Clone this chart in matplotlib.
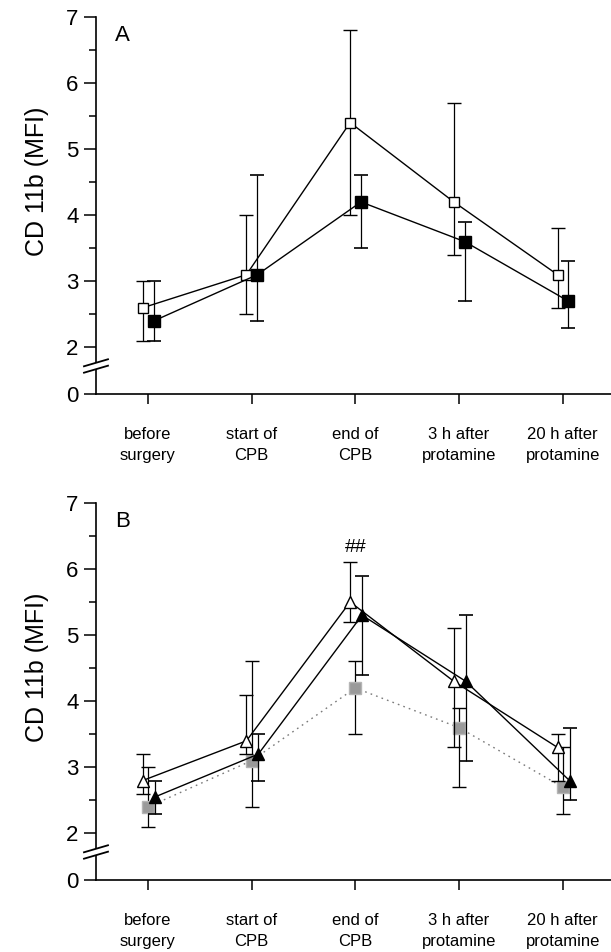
import numpy as np
import matplotlib.pyplot as plt
from matplotlib.patches import Polygon

plt.rcParams['font.family'] = ['Liberation Sans', 'DejaVu Sans']

CATEGORIES = ["before\nsurgery", "start of\nCPB", "end of\nCPB",
              "3 h after\nprotamine", "20 h after\nprotamine"]

# panel A: open vs filled squares (mean, lower, upper)
A_OPEN = [2.6, 3.1, 5.4, 4.2, 3.1]
A_OPEN_LO = [2.1, 2.5, 4.0, 3.4, 2.6]
A_OPEN_HI = [3.0, 4.0, 6.8, 5.7, 3.8]
A_FILLED = [2.4, 3.1, 4.2, 3.6, 2.7]
A_FILLED_LO = [2.1, 2.4, 3.5, 2.7, 2.3]
A_FILLED_HI = [3.0, 4.6, 4.6, 3.9, 3.3]

# panel B: open vs filled triangles, grey squares repeat group from A
B_OPEN = [2.8, 3.4, 5.5, 4.3, 3.3]
B_OPEN_LO = [2.6, 3.2, 5.2, 3.3, 2.8]
B_OPEN_HI = [3.2, 4.1, 6.1, 5.1, 3.5]
B_FILLED = [2.55, 3.2, 5.3, 4.3, 2.8]
B_FILLED_LO = [2.3, 2.8, 4.4, 3.1, 2.5]
B_FILLED_HI = [2.8, 3.5, 5.9, 5.3, 3.6]
B_GREY = [2.4, 3.1, 4.2, 3.6, 2.7]
B_GREY_LO = [2.1, 2.4, 3.5, 2.7, 2.3]
B_GREY_HI = [3.0, 4.6, 4.6, 3.9, 3.3]

Y_TICKS = [2, 3, 4, 5, 6, 7]
Y_MINOR = [2.5, 3.5, 4.5, 5.5, 6.5]
ZERO_POS = 1.296   # where "0" sits below the axis break
SIG_MARK = "##"
SIG_POS = (2, 6.32)

###############################################################################

def errbars(ax, x, y, lo, hi, **kw):
    ''' Draws asymmetric error bars with markers '''
    y = np.asarray(y)
    yerr = [y - np.asarray(lo), np.asarray(hi) - y]
    return ax.errorbar(x, y, yerr=yerr, capsize=5, elinewidth=0.9,
                       capthick=1.2, ecolor='black', **kw)

def setup_axes(ax, letter):
    ''' Broken y axis (0 | 2..7), outward ticks, category labels '''
    ax.set_xlim(-0.5, 4.465)
    ax.set_ylim(ZERO_POS, 7)
    for side in ('top', 'right'):
        ax.spines[side].set_visible(False)
    for side in ('left', 'bottom'):
        ax.spines[side].set_linewidth(1.2)
    ax.set_yticks([ZERO_POS] + Y_TICKS)
    ax.set_yticklabels(['0'] + [str(t) for t in Y_TICKS])
    ax.set_yticks(Y_MINOR, minor=True)
    ax.tick_params(axis='y', which='major', direction='out', length=8.5,
                   width=1.1, labelsize=16, pad=4)
    ax.tick_params(axis='y', which='minor', direction='out', length=5, width=1.1)
    ax.set_xticks(range(len(CATEGORIES)))
    ax.set_xticklabels(CATEGORIES, fontsize=12, linespacing=1.45)
    ax.tick_params(axis='x', direction='out', length=7, width=1.1, pad=17)
    ax.text(-0.1146, 0.563, "CD 11b (MFI)", transform=ax.transAxes,
            rotation=90, ha='center', va='center', fontsize=18)
    ax.text(0.037, 0.935, letter, transform=ax.transAxes, fontsize=16,
            ha='left', va='baseline')

    # break marks on the y axis
    cy = (1.72 - ZERO_POS) / (7 - ZERO_POS)
    hw, hh, gap = 0.0233, 0.0093, 0.0085
    ax.add_patch(Polygon([(-0.004, cy - gap), (0.004, cy - gap),
                          (0.004, cy + gap), (-0.004, cy + gap)],
                         closed=True, transform=ax.transAxes, facecolor='white',
                         edgecolor='none', clip_on=False, zorder=5))
    for off in (-gap, gap):
        ax.plot([-hw, hw], [cy + off - hh, cy + off + hh], color='black',
                lw=1.3, transform=ax.transAxes, clip_on=False, zorder=6)

###############################################################################

x = np.arange(len(CATEGORIES))
fig = plt.figure(figsize=(6.11, 9.52), dpi=100)
axA = fig.add_axes([0.1571, 0.5861, 0.8429, 0.3963])
axB = fig.add_axes([0.1571, 0.0756, 0.8429, 0.3963])

# panel A
errbars(axA, x - 0.05, A_OPEN, A_OPEN_LO, A_OPEN_HI, color='black', lw=1.0,
        marker='s', ms=7.5, mfc='white', mec='black', mew=1.0, zorder=3)
errbars(axA, x + 0.055, A_FILLED, A_FILLED_LO, A_FILLED_HI, color='black', lw=1.0,
        marker='s', ms=8, mfc='black', mec='black', zorder=4)
setup_axes(axA, "A")

# panel B
errbars(axB, x, B_GREY, B_GREY_LO, B_GREY_HI, color='#7a7a7a', lw=1.0,
        ls=(0, (1.2, 3)), marker='s', ms=8, mfc='#9a9a9a', mec='#b5b5b5',
        mew=1.0, zorder=2)
errbars(axB, x - 0.05, B_OPEN, B_OPEN_LO, B_OPEN_HI, color='black', lw=1.0,
        marker='^', ms=9, mfc='white', mec='black', mew=1.0, zorder=3)
errbars(axB, x + 0.065, B_FILLED, B_FILLED_LO, B_FILLED_HI, color='black', lw=1.0,
        marker='^', ms=9, mfc='black', mec='black', zorder=4)
axB.text(SIG_POS[0], SIG_POS[1], SIG_MARK, ha='center', va='center', fontsize=14)
setup_axes(axB, "B")

fig.savefig("out.png", dpi=100)
